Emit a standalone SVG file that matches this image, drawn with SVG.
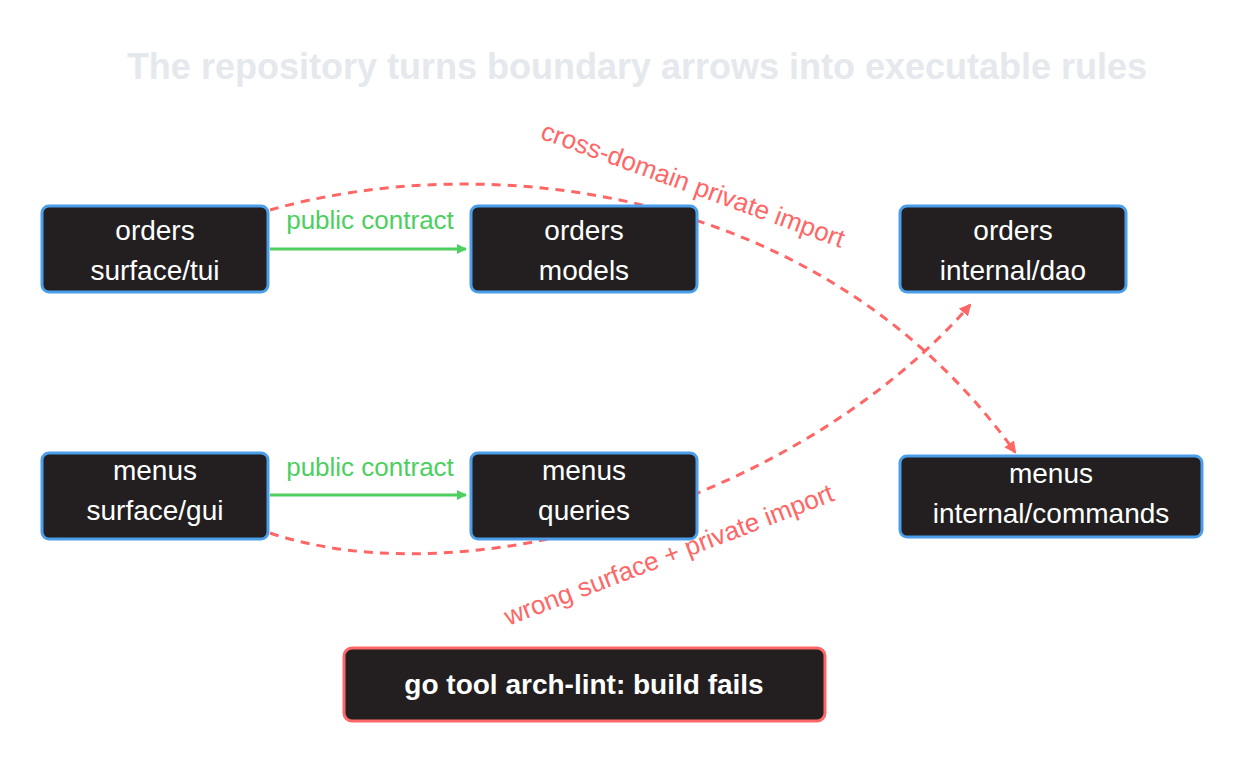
<svg xmlns="http://www.w3.org/2000/svg" width="1253" height="766" viewBox="0 0 1253 766">
<defs>
<style>
.n rect{fill:#231f20;stroke:#4a9eea;stroke-width:3}
.n text{fill:#fff;font-family:"Liberation Sans",Arial,sans-serif;font-size:28px;text-anchor:middle}
.g{stroke:#4ccf5f;stroke-width:3;fill:none}
.r{stroke:#ff6666;stroke-width:3;fill:none;stroke-dasharray:9 7}
.gl{fill:#4ccf5f;font-family:"Liberation Sans",Arial,sans-serif;font-size:26px;text-anchor:middle}
.rl{fill:#ff6666;font-family:"Liberation Sans",Arial,sans-serif;font-size:26px;text-anchor:middle}
</style>
<marker id="ag" markerWidth="10" markerHeight="10" refX="9" refY="5" orient="auto" markerUnits="userSpaceOnUse" viewBox="0 0 10 10"><path d="M0,0L10,5L0,10z" fill="#4ccf5f"/></marker>
<marker id="ar" markerWidth="12" markerHeight="12" refX="10" refY="6" orient="auto" markerUnits="userSpaceOnUse" viewBox="0 0 12 12"><path d="M0,0L12,6L0,12z" fill="#ff6666"/></marker>
</defs>
<rect width="1253" height="766" fill="#fff"/>
<text x="637" y="79" font-family="Liberation Sans,Arial,sans-serif" font-size="36" font-weight="bold" fill="#e5e8ec" text-anchor="middle">The repository turns boundary arrows into executable rules</text>
<g id="connectors">
<path class="g" d="M270,249H466" marker-end="url(#ag)"/>
<path class="g" d="M270,495H466" marker-end="url(#ag)"/>
<path class="r" d="M270,210C480,150 820,180 1015,452" marker-end="url(#ar)"/>
<path class="r" d="M270,533C470,600 800,500 970,305" marker-end="url(#ar)"/>
<text class="gl" x="370" y="229">public contract</text>
<text class="gl" x="370" y="476">public contract</text>
<text class="rl" transform="translate(690,193) rotate(20)">cross-domain private import</text>
<text class="rl" transform="translate(672,563) rotate(-21)">wrong surface + private import</text>
</g>
<g id="n1" class="n"><rect x="42" y="206" width="226" height="86" rx="7"/><text x="155" y="240">orders</text><text x="155" y="280">surface/tui</text></g>
<g id="n2" class="n"><rect x="471" y="206" width="226" height="86" rx="7"/><text x="584" y="240">orders</text><text x="584" y="280">models</text></g>
<g id="n3" class="n"><rect x="900" y="206" width="226" height="86" rx="7"/><text x="1013" y="240">orders</text><text x="1013" y="280">internal/dao</text></g>
<g id="n4" class="n"><rect x="42" y="453" width="226" height="86" rx="7"/><text x="155" y="480">menus</text><text x="155" y="520">surface/gui</text></g>
<g id="n5" class="n"><rect x="471" y="453" width="226" height="86" rx="7"/><text x="584" y="480">menus</text><text x="584" y="520">queries</text></g>
<g id="n6" class="n"><rect x="900" y="456" width="302" height="81" rx="7"/><text x="1051" y="483">menus</text><text x="1051" y="523">internal/commands</text></g>
<g id="n7" class="n"><rect x="344" y="648" width="481" height="73" rx="8" style="stroke:#ff6666"/><text x="584" y="694" font-weight="bold">go tool arch-lint: build fails</text></g>
</svg>
